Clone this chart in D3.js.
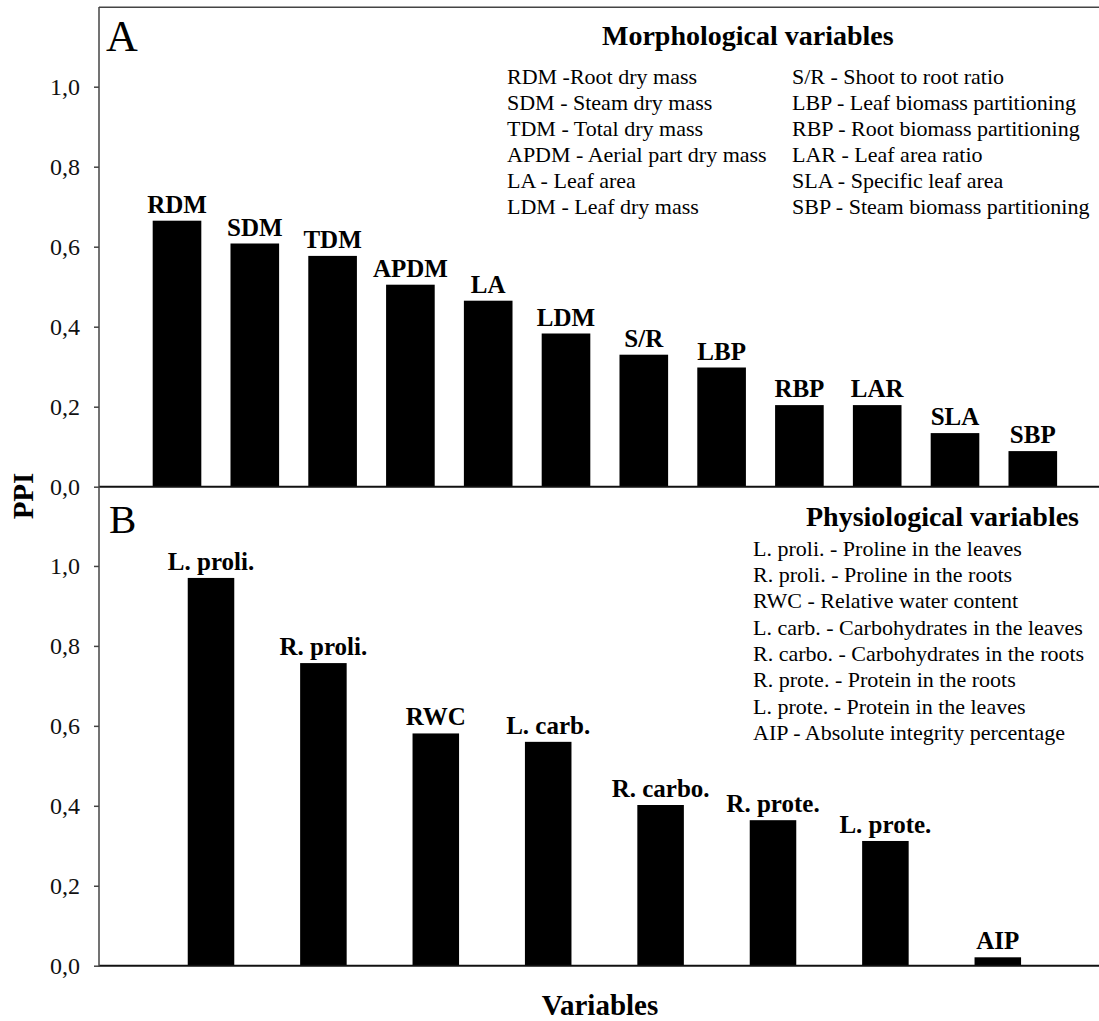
<!DOCTYPE html>
<html>
<head>
<meta charset="utf-8">
<script src="https://cdn.jsdelivr.net/npm/d3@7.9.0/dist/d3.min.js"></script>
<style>
  body { margin: 0; background: #fff; }
  svg { display: block; font-family: "Liberation Serif", "Times New Roman", serif; }
</style>
</head>
<body>
<svg width="1099" height="1021"></svg>
<script>
// panel A - morphological
const morphVars = ['RDM', 'SDM', 'TDM', 'APDM', 'LA', 'LDM', 'S/R', 'LBP', 'RBP', 'LAR', 'SLA', 'SBP'];
const morphPPI = [0.665, 0.608, 0.577, 0.505, 0.465, 0.383, 0.330, 0.298, 0.204, 0.204, 0.134, 0.089];
const morphLegend1 = ['RDM -Root dry mass', 'SDM - Steam dry mass', 'TDM - Total dry mass',
  'APDM - Aerial part dry mass', 'LA - Leaf area', 'LDM - Leaf dry mass'];
const morphLegend2 = ['S/R - Shoot to root ratio', 'LBP - Leaf biomass partitioning',
  'RBP - Root biomass partitioning', 'LAR - Leaf area ratio', 'SLA - Specific leaf area',
  'SBP - Steam biomass partitioning'];

// panel B - physiological
const physVars = ['L. proli.', 'R. proli.', 'RWC', 'L. carb.', 'R. carbo.', 'R. prote.', 'L. prote.', 'AIP'];
const physPPI = [0.970, 0.757, 0.581, 0.560, 0.402, 0.364, 0.312, 0.021];
const physLegend = ['L. proli. - Proline in the leaves', 'R. proli. - Proline in the roots',
  'RWC - Relative water content', 'L. carb. - Carbohydrates in the leaves',
  'R. carbo. - Carbohydrates in the roots', 'R. prote. - Protein in the roots',
  'L. prote. - Protein in the leaves', 'AIP - Absolute integrity percentage'];

const yTicks = [0, 0.2, 0.4, 0.6, 0.8, 1.0];

const svg = d3.select('svg');
const axisX = 99;
const lineColor = '#444';
const fmt = d => d3.format('.1f')(d).replace('.', ',');

function panel(cfg) {
  let x = d3.scaleBand().domain(cfg.cats).range(cfg.xr)
    .paddingInner(cfg.pad).paddingOuter(cfg.pad / 2);
  let y = d3.scaleLinear().domain([0, 1.2]).range(cfg.yr);

  let g = svg.append('g');

  g.selectAll('rect.bar')
    .data(cfg.cats)
    .join('rect')
    .attr('class', 'bar')
    .attr('x', d => x(d))
    .attr('width', x.bandwidth())
    .attr('y', (d, i) => y(cfg.vals[i]))
    .attr('height', (d, i) => y(0) - y(cfg.vals[i]))
    .attr('fill', '#000');

  g.selectAll('text.lab')
    .data(cfg.cats)
    .join('text')
    .attr('class', 'lab')
    .attr('x', d => x(d) + x.bandwidth() / 2)
    .attr('y', (d, i) => y(cfg.vals[i]) - 8)
    .attr('text-anchor', 'middle')
    .attr('font-weight', 'bold')
    .attr('font-size', 25)
    .text(d => d);

  // y axis
  let ax = g.append('g')
    .attr('transform', `translate(${axisX},0)`)
    .call(d3.axisLeft(y).tickValues(yTicks).tickFormat(fmt).tickSize(5).tickPadding(14));
  ax.select('.domain').remove();
  ax.selectAll('line').attr('stroke', lineColor).attr('stroke-width', 1.5);
  ax.selectAll('text').attr('font-size', 24).attr('fill', '#111')
    .attr('font-family', '"Liberation Serif", serif');

  // baseline
  g.append('line')
    .attr('x1', axisX).attr('x2', 1099)
    .attr('y1', y(0)).attr('y2', y(0))
    .attr('stroke', '#111').attr('stroke-width', 2);

  return { x, y };
}

const A = panel({ cats: morphVars, vals: morphPPI, xr: [138.1, 1071.7], yr: [486.7, 6.7], pad: 0.375 });
const B = panel({ cats: physVars, vals: physPPI, xr: [154.8, 1054], yr: [965.7, 486], pad: 0.586 });

// frame: top line and left axis line
svg.append('line').attr('x1', axisX).attr('x2', 1099).attr('y1', 7.3).attr('y2', 7.3)
  .attr('stroke', lineColor).attr('stroke-width', 1.5);
svg.append('line').attr('x1', axisX).attr('x2', axisX).attr('y1', 7).attr('y2', 967)
  .attr('stroke', lineColor).attr('stroke-width', 1.5);

// panel letters
svg.append('text').attr('x', 106).attr('y', 50.7).attr('font-size', 44).text('A');
svg.append('text').attr('x', 109).attr('y', 533).attr('font-size', 41).text('B');

// legends
svg.append('text').attr('x', 602).attr('y', 45).attr('font-size', 28).attr('font-weight', 'bold')
  .text('Morphological variables');
svg.append('g').selectAll('text')
  .data(morphLegend1).join('text')
  .attr('x', 507).attr('y', (d, i) => 84 + i * 26)
  .attr('font-size', 22).text(d => d);
svg.append('g').selectAll('text')
  .data(morphLegend2).join('text')
  .attr('x', 792).attr('y', (d, i) => 84 + i * 26)
  .attr('font-size', 22).text(d => d);

svg.append('text').attr('x', 806).attr('y', 526).attr('font-size', 28).attr('font-weight', 'bold')
  .text('Physiological variables');
svg.append('g').selectAll('text')
  .data(physLegend).join('text')
  .attr('x', 753).attr('y', (d, i) => 555.7 + i * 26.3)
  .attr('font-size', 22).text(d => d);

// axis titles
svg.append('text')
  .attr('transform', 'translate(33,496) rotate(-90)')
  .attr('text-anchor', 'middle')
  .attr('font-size', 29).attr('font-weight', 'bold')
  .text('PPI');
svg.append('text')
  .attr('x', 600).attr('y', 1015)
  .attr('text-anchor', 'middle')
  .attr('font-size', 29).attr('font-weight', 'bold')
  .text('Variables');
</script>
</body>
</html>
